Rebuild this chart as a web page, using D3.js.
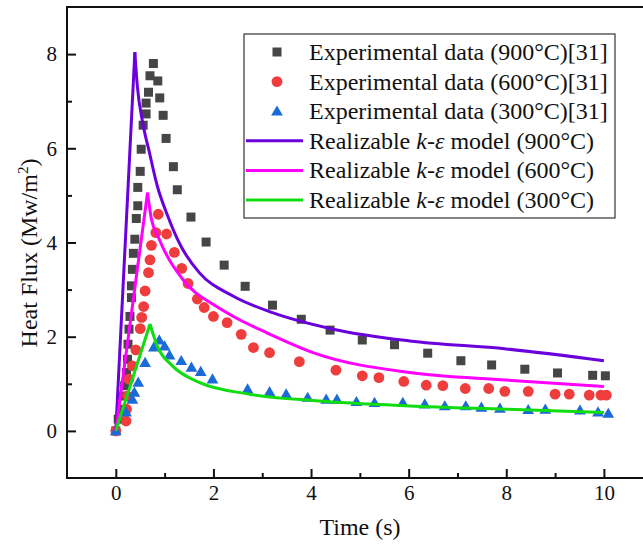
<!DOCTYPE html>
<html>
<head>
<meta charset="utf-8">
<script src="https://cdn.jsdelivr.net/npm/d3@7"></script>
<style>
  html, body { margin: 0; padding: 0; background: #fff; overflow: hidden; }
  svg { display: block; }
  text { font-family: "Liberation Serif", "Times New Roman", serif; fill: #111; }
</style>
</head>
<body>
<svg id="chart" width="643" height="544"></svg>
<script>
// Measured heat flux, [time (s), flux (MW/m²)]
const exp900 = [[0,0],[0.05,0.25],[0.10,0.46],[0.15,0.74],[0.18,0.96],[0.22,1.24],[0.24,1.52],[0.25,1.84],[0.27,2.16],[0.29,2.43],[0.32,2.83],[0.32,3.08],[0.34,3.43],[0.36,3.77],[0.39,4.07],[0.42,4.51],[0.45,4.78],[0.45,5.17],[0.50,5.51],[0.52,5.98],[0.56,6.49],[0.62,6.73],[0.62,6.96],[0.67,7.19],[0.70,7.54],[0.77,7.80],[0.86,7.43],[0.90,7.07],[0.97,6.70],[1.03,6.21],[1.18,5.61],[1.26,5.12],[1.54,4.54],[1.85,4.01],[2.22,3.52],[2.65,3.07],[3.21,2.67],[3.80,2.37],[4.39,2.14],[5.05,1.93],[5.71,1.83],[6.39,1.65],[7.07,1.49],[7.70,1.40],[8.38,1.31],[9.05,1.23],[9.77,1.18],[10.03,1.17]];
const exp600 = [[0,0],[0.21,0.21],[0.22,0.46],[0.24,0.74],[0.27,1.10],[0.34,1.38],[0.41,1.72],[0.50,2.17],[0.53,2.41],[0.57,2.64],[0.60,2.97],[0.67,3.36],[0.70,3.63],[0.73,3.94],[0.82,4.21],[0.87,4.60],[1.04,4.18],[1.20,3.79],[1.35,3.45],[1.48,3.13],[1.67,2.80],[1.81,2.62],[2.00,2.43],[2.28,2.30],[2.57,2.05],[2.82,1.77],[3.15,1.66],[3.76,1.47],[4.51,1.29],[5.05,1.17],[5.39,1.13],[5.90,1.05],[6.36,0.97],[6.70,0.96],[7.16,0.90],[7.64,0.90],[7.97,0.84],[8.45,0.84],[9.00,0.78],[9.29,0.78],[9.70,0.76],[9.94,0.76],[10.05,0.76]];
const exp300 = [[0,0],[0.21,0.40],[0.34,0.67],[0.38,0.82],[0.46,1.03],[0.60,1.45],[0.78,1.78],[0.89,1.93],[1.00,1.80],[1.10,1.61],[1.34,1.49],[1.55,1.35],[1.74,1.26],[1.98,1.10],[2.70,0.89],[3.15,0.83],[3.49,0.78],[3.93,0.71],[4.31,0.67],[4.53,0.67],[4.93,0.62],[5.30,0.60],[5.88,0.60],[6.33,0.57],[6.74,0.53],[7.17,0.53],[7.49,0.50],[7.87,0.48],[8.45,0.45],[8.80,0.46],[9.51,0.44],[9.88,0.40],[10.09,0.37]];

// Realizable k-ε model predictions
const model900 = [[0,0],[0.39,8.04],[0.44,7.33],[0.55,6.55],[0.68,5.95],[0.85,5.20],[1.05,4.60],[1.33,3.93],[1.71,3.36],[2.39,2.87],[3.21,2.51],[4.45,2.16],[6.02,1.91],[8.00,1.74],[10.0,1.49]];
const model600 = [[0,0],[0.65,5.06],[0.72,4.55],[0.89,4.07],[1.37,3.22],[2.05,2.65],[2.39,2.44],[3.08,2.09],[4.10,1.64],[6.02,1.24],[8.00,1.08],[10.0,0.94]];
const model300 = [[0,0],[0.70,2.27],[0.85,1.80],[1.16,1.38],[1.71,1.03],[2.74,0.78],[4.10,0.64],[6.02,0.53],[8.00,0.46],[10.0,0.39]];

const xTicks = [0, 2, 4, 6, 8, 10];
const yTicks = [0, 2, 4, 6, 8];
const legendLabels = [
  "Experimental data (900°C)[31]",
  "Experimental data (600°C)[31]",
  "Experimental data (300°C)[31]",
  "Realizable k-ε model (900°C)",
  "Realizable k-ε model (600°C)",
  "Realizable k-ε model (300°C)"
];

const colors = {
  sq: "#464646", circ: "#ef3d3d", tri: "#1b6ad8",
  l900: "#6a00dc", l600: "#ff00ff", l300: "#10dc10"
};
const serif = "Liberation Serif, Times New Roman, serif";

const svg = d3.select("#chart");
const x = d3.scaleLinear().domain([-1, 11]).range([67, 652.7]);
const y = d3.scaleLinear().domain([-1, 9]).range([478, 7]);

// frame
svg.append("rect")
  .attr("x", x(-1)).attr("y", y(9))
  .attr("width", x(11) - x(-1)).attr("height", y(-1) - y(9))
  .attr("fill", "none").attr("stroke", "#111").attr("stroke-width", 2);

// inward ticks, major and minor
const xAxis = d3.axisBottom(x).tickValues(xTicks).tickSize(-9).tickPadding(7).tickFormat(d3.format("d"));
const xMinor = d3.axisBottom(x).tickValues([1, 3, 5, 7, 9]).tickSize(-5).tickFormat("");
const yAxis = d3.axisLeft(y).tickValues(yTicks).tickSize(-9).tickPadding(10).tickFormat(d3.format("d"));
const yMinor = d3.axisLeft(y).tickValues([1, 3, 5, 7]).tickSize(-5).tickFormat("");

function styleAxis(g) {
  g.attr("font-family", serif).attr("font-size", 21);
  g.select(".domain").remove();
  g.selectAll(".tick line").attr("stroke", "#111").attr("stroke-width", 2);
  g.selectAll(".tick text").attr("fill", "#111");
}
svg.append("g").attr("transform", `translate(0,${y(-1)})`).call(xAxis).call(styleAxis);
svg.append("g").attr("transform", `translate(0,${y(-1)})`).call(xMinor).call(styleAxis);
svg.append("g").attr("transform", `translate(${x(-1)},0)`).call(yAxis).call(styleAxis);
svg.append("g").attr("transform", `translate(${x(-1)},0)`).call(yMinor).call(styleAxis);

// axis titles
svg.append("text").attr("x", 360).attr("y", 535).attr("text-anchor", "middle")
  .style("font-size", "24px").text("Time (s)");
const yt = svg.append("text").attr("transform", "translate(37,253) rotate(-90)")
  .attr("text-anchor", "middle").style("font-size", "24px");
yt.append("tspan").text("Heat Flux (Mw/m");
yt.append("tspan").attr("dy", -9).style("font-size", "15px").text("2");
yt.append("tspan").attr("dy", 9).text(")");

const plot = svg.append("g");
const sqSize = 9;

// experimental markers
plot.append("g").selectAll("rect").data(exp900).join("rect")
  .attr("x", d => x(d[0]) - sqSize / 2).attr("y", d => y(d[1]) - sqSize / 2)
  .attr("width", sqSize).attr("height", sqSize).attr("fill", colors.sq);
plot.append("g").selectAll("circle").data(exp600).join("circle")
  .attr("cx", d => x(d[0])).attr("cy", d => y(d[1])).attr("r", 5.4).attr("fill", colors.circ);
const triSym = d3.symbol().type(d3.symbolTriangle).size(60);
plot.append("g").selectAll("path").data(exp300).join("path")
  .attr("transform", d => `translate(${x(d[0])},${y(d[1]) + 1})`)
  .attr("d", triSym).attr("fill", colors.tri);

// model curves: straight rise to the peak, smooth decay after it
const line = d3.line().x(d => x(d[0])).y(d => y(d[1])).curve(d3.curveMonotoneX);
[[model900, colors.l900], [model600, colors.l600], [model300, colors.l300]].forEach(([data, c]) => {
  const seg = [data.slice(0, 2), data.slice(1)];
  seg.forEach(s => plot.append("path").datum(s).attr("d", line)
    .attr("fill", "none").attr("stroke", c).attr("stroke-width", 3).attr("stroke-linejoin", "round"));
});

// legend
const lg = svg.append("g");
lg.append("rect").attr("x", 244).attr("y", 34).attr("width", 371).attr("height", 184)
  .attr("fill", "#fff").attr("stroke", "#444").attr("stroke-width", 1.3);
const rowY = i => 52 + i * 29.6;
lg.append("rect").attr("x", 277 - sqSize / 2).attr("y", rowY(0) - sqSize / 2)
  .attr("width", sqSize).attr("height", sqSize).attr("fill", colors.sq);
lg.append("circle").attr("cx", 277).attr("cy", rowY(1)).attr("r", 5.4).attr("fill", colors.circ);
lg.append("path").attr("transform", `translate(277,${rowY(2) + 1})`).attr("d", triSym).attr("fill", colors.tri);
[colors.l900, colors.l600, colors.l300].forEach((c, i) => {
  lg.append("line").attr("x1", 246).attr("x2", 303).attr("y1", rowY(3 + i)).attr("y2", rowY(3 + i))
    .attr("stroke", c).attr("stroke-width", 3);
});
legendLabels.forEach((t, i) => {
  const tx = lg.append("text").attr("x", 309).attr("y", rowY(i) + 8).style("font-size", "24px");
  if (i < 3) { tx.text(t); return; }
  const m = t.match(/^(Realizable )k-ε( model .*)$/);
  tx.append("tspan").text(m[1]);
  tx.append("tspan").style("font-style", "italic").text("k");
  tx.append("tspan").text("-");
  tx.append("tspan").style("font-style", "italic").text("ε");
  tx.append("tspan").text(m[2]);
});
</script>
</body>
</html>
